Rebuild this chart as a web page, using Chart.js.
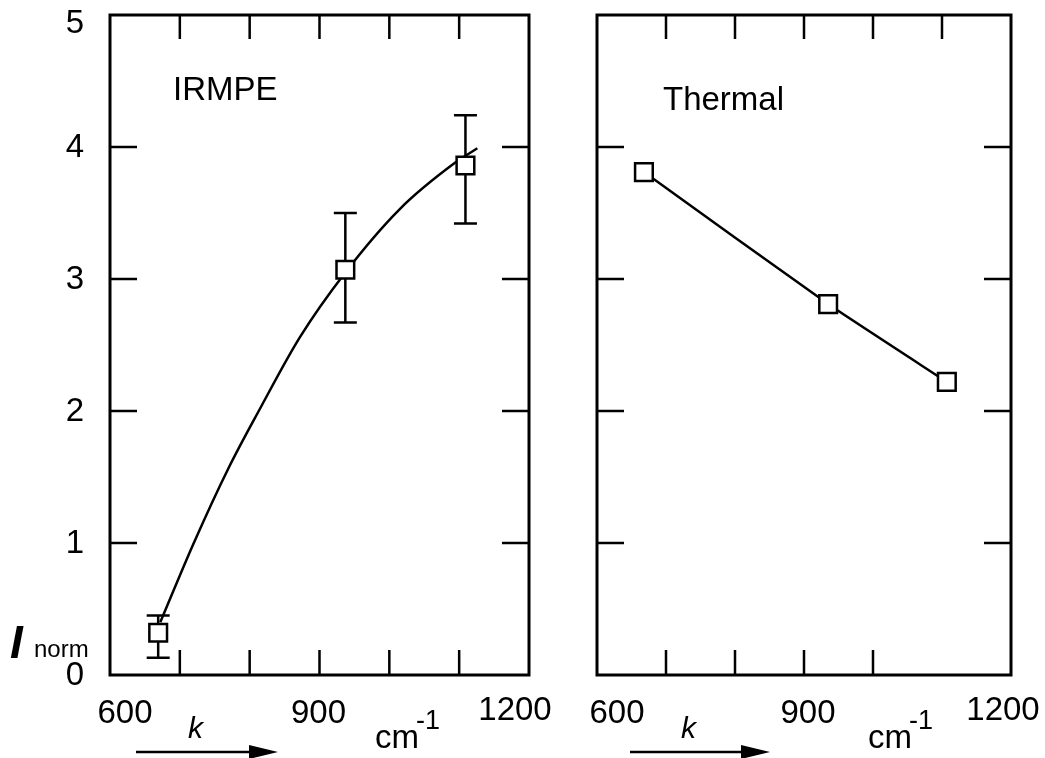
<!DOCTYPE html>
<html>
<head>
<meta charset="utf-8">
<script src="https://cdn.jsdelivr.net/npm/chart.js@4.4.0/dist/chart.umd.min.js"></script>
<style>
body{margin:0;background:#fff;}
#wrap{position:relative;width:1045px;height:758px;}
canvas{position:absolute;top:0;}
</style>
</head>
<body>
<div id="wrap">
<canvas id="irmpeChart" width="560" height="758" style="left:0;width:560px;height:758px"></canvas>
<canvas id="thermalChart" width="485" height="758" style="left:560px;width:485px;height:758px"></canvas>
</div>
<script>
// IRMPE measured points (k in cm-1, normalised intensity) with error bars
const irmpeK = [669, 937, 1109];
const irmpeI = [0.32, 3.07, 3.86];
const irmpeErrLow = [0.13, 2.67, 3.42];
const irmpeErrHigh = [0.45, 3.50, 4.24];
// fitted curve through the IRMPE points
const fitK = [672, 720, 770, 813, 872, 937, 1015, 1094, 1126];
const fitI = [0.40, 1.00, 1.57, 2.00, 2.56, 3.05, 3.53, 3.88, 3.99];
// thermal points
const thermalK = [668, 935, 1107];
const thermalI = [3.81, 2.81, 2.22];
// axes
const xTicks = [700, 800, 900, 1000, 1100];
const xLabels = [600, 900, 1200];
const yTicks = [1, 2, 3, 4];
const yLabels = [0, 1, 2, 3, 4, 5];

Chart.defaults.font.family = "'Liberation Sans', Arial, sans-serif";

const pts = (xs, ys) => xs.map((x, i) => ({x: x, y: ys[i]}));

const framePlugin = {
    id: 'frame',
    beforeDatasetsDraw(chart, args, opts) {
        if (!opts.errLow) return;
        const ctx = chart.ctx, xs = chart.scales.x, ys = chart.scales.y;
        ctx.save();
        ctx.strokeStyle = '#000';
        ctx.lineWidth = 2.5;
        opts.errX.forEach((k, i) => {
            const px = xs.getPixelForValue(k);
            const lo = ys.getPixelForValue(opts.errLow[i]);
            const hi = ys.getPixelForValue(opts.errHigh[i]);
            ctx.beginPath();
            ctx.moveTo(px, lo); ctx.lineTo(px, hi);
            ctx.moveTo(px - 11.5, lo); ctx.lineTo(px + 11.5, lo);
            ctx.moveTo(px - 11.5, hi); ctx.lineTo(px + 11.5, hi);
            ctx.stroke();
        });
        ctx.restore();
    },
    afterDraw(chart, args, opts) {
        const ctx = chart.ctx, a = chart.chartArea;
        const xs = chart.scales.x, ys = chart.scales.y;
        ctx.save();
        ctx.strokeStyle = '#000';
        ctx.fillStyle = '#000';
        ctx.lineWidth = 3;
        ctx.strokeRect(a.left, a.top, a.right - a.left, a.bottom - a.top);

        ctx.lineWidth = 2.5;
        ctx.beginPath();
        xTicks.forEach(v => {
            const px = xs.getPixelForValue(v);
            ctx.moveTo(px, a.top); ctx.lineTo(px, a.top + 24);
            if (opts.bottomTicks.includes(v)) {
                ctx.moveTo(px, a.bottom); ctx.lineTo(px, a.bottom - 25);
            }
        });
        yTicks.forEach(v => {
            const py = ys.getPixelForValue(v);
            ctx.moveTo(a.left, py); ctx.lineTo(a.left + 27, py);
            ctx.moveTo(a.right, py); ctx.lineTo(a.right - 27, py);
        });
        ctx.stroke();

        ctx.font = "33px 'Liberation Sans', Arial";
        ctx.textBaseline = 'middle';
        if (opts.yAxisLabels) {
            ctx.textAlign = 'right';
            yLabels.forEach(v => {
                const py = Math.max(ys.getPixelForValue(v), a.top + 8);
                ctx.fillText(String(v), a.left - 26, py + 1);
            });
        }
        ctx.textAlign = 'center';
        xLabels.forEach((v, i) => {
            const px = xs.getPixelForValue(v) + opts.labelShift[i];
            ctx.fillText(String(v), px, i === 2 ? 711 : 714);
        });

        // panel title
        ctx.textAlign = 'left';
        ctx.textBaseline = 'alphabetic';
        ctx.fillText(opts.title, opts.titleX, opts.titleY);

        // axis name: k -> cm-1
        ctx.font = "italic 30px 'Liberation Sans', Arial";
        ctx.fillText('k', opts.kX - 4, 738);
        ctx.font = "33px 'Liberation Sans', Arial";
        ctx.fillText('cm', opts.cmX, 748);
        ctx.font = "27px 'Liberation Sans', Arial";
        ctx.fillText('-1', opts.cmX + 41, 729);

        ctx.lineWidth = 2.5;
        ctx.beginPath();
        ctx.moveTo(opts.arrow[0], 752); ctx.lineTo(opts.arrow[1] - 20, 752);
        ctx.stroke();
        ctx.beginPath();
        ctx.moveTo(opts.arrow[1], 752);
        ctx.lineTo(opts.arrow[1] - 29, 745);
        ctx.lineTo(opts.arrow[1] - 29, 759);
        ctx.closePath();
        ctx.fill();

        if (opts.yName) {
            ctx.font = "italic bold 46px 'Liberation Sans', Arial";
            ctx.fillText('I', 10, 658);
            ctx.font = "24px 'Liberation Sans', Arial";
            ctx.fillText('norm', 34, 657);
        }
        ctx.restore();
    }
};

const baseScales = {
    x: {type: 'linear', min: 600, max: 1200, display: false},
    y: {type: 'linear', min: 0, max: 5, display: false}
};

const renderIrmpe = () => {
    const ctx = document.getElementById('irmpeChart').getContext('2d');
    new Chart(ctx, {
        type: 'line',
        data: {
            datasets: [{
                data: pts(irmpeK, irmpeI),
                showLine: false,
                pointStyle: 'rect',
                pointRadius: 12.5,
                pointBorderWidth: 2.5,
                pointBackgroundColor: '#fff',
                pointBorderColor: '#000'
            }, {
                data: pts(fitK, fitI),
                borderColor: '#000',
                borderWidth: 2.5,
                pointRadius: 0,
                cubicInterpolationMode: 'monotone'
            }]
        },
        options: {
            responsive: false,
            animation: false,
            layout: {padding: {left: 110, right: 31, top: 14, bottom: 83}},
            scales: baseScales,
            plugins: {
                legend: {display: false},
                tooltip: {enabled: false},
                frame: {
                    errX: irmpeK, errLow: irmpeErrLow, errHigh: irmpeErrHigh,
                    bottomTicks: [700, 800, 900, 1000, 1100],
                    yAxisLabels: true, yName: true,
                    labelShift: [15, -1, -14],
                    title: 'IRMPE', titleX: 173, titleY: 100,
                    kX: 192, cmX: 375, arrow: [136, 278]
                }
            }
        },
        plugins: [framePlugin]
    });
};

const renderThermal = () => {
    const ctx = document.getElementById('thermalChart').getContext('2d');
    new Chart(ctx, {
        type: 'line',
        data: {
            datasets: [{
                data: pts(thermalK, thermalI),
                borderColor: '#000',
                borderWidth: 2.5,
                tension: 0.15,
                pointStyle: 'rect',
                pointRadius: 12.5,
                pointBorderWidth: 2.5,
                pointBackgroundColor: '#fff',
                pointBorderColor: '#000'
            }]
        },
        options: {
            responsive: false,
            animation: false,
            layout: {padding: {left: 37, right: 34, top: 14, bottom: 83}},
            scales: baseScales,
            plugins: {
                legend: {display: false},
                tooltip: {enabled: false},
                frame: {
                    bottomTicks: [700, 800, 900, 1000],
                    yAxisLabels: false, yName: false,
                    labelShift: [20, 4, -8],
                    title: 'Thermal', titleX: 103, titleY: 110,
                    kX: 125, cmX: 308, arrow: [70, 210]
                }
            }
        },
        plugins: [framePlugin]
    });
};

renderIrmpe();
renderThermal();
</script>
</body>
</html>
